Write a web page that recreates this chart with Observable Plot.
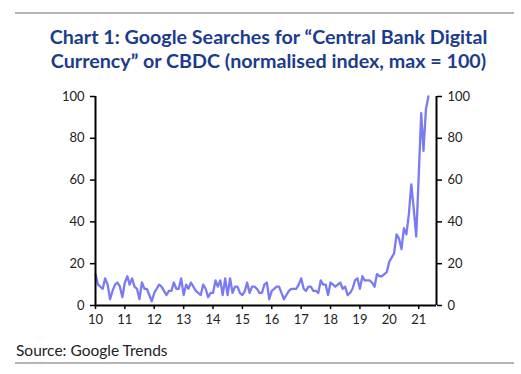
<!DOCTYPE html>
<html>
<head>
<meta charset="utf-8">
<script src="https://cdn.jsdelivr.net/npm/d3@7"></script>
<script src="https://cdn.jsdelivr.net/npm/@observablehq/plot@0.6"></script>
<style>
  html, body { margin: 0; padding: 0; background: #fff; }
  #wrap { position: relative; width: 521px; height: 374px; overflow: hidden; font-family: Lato, "Open Sans", sans-serif; }
  .rule { position: absolute; left: 15px; width: 499px; height: 0; border-top: 2px solid #b4b4b4; }
  #title { position: absolute; left: 8px; width: 521px; top: 25px; text-align: center; color: #1b3c8c; font-weight: 700; font-size: 19.7px; line-height: 24px; }
  #chart { position: absolute; left: 0; top: 80px; }
  #source { position: absolute; left: 16px; top: 341px; font-size: 15.5px; color: #222; }
</style>
</head>
<body>
<div id="wrap">
  <div class="rule" style="top:12px"></div>
  <div id="title">Chart 1: Google Searches for “Central Bank Digital<br>Currency” or CBDC (normalised index, max = 100)</div>
  <div id="chart"></div>
  <div id="source">Source: Google Trends</div>
  <div class="rule" style="top:362px"></div>
</div>
<script>
// Monthly Google Trends index, Jan 2010 – May 2021
const startMonth = "2010-01-01";
const values = [
  15, 10, 9, 8, 13, 10, 3, 7, 10, 11, 9, 4,      // 2010
  11, 14, 10, 13, 9, 8, 3, 11, 8, 8, 5, 2,       // 2011
  6, 8, 10, 9, 7, 5, 7, 7, 11, 8, 8, 13,         // 2012
  5, 10, 8, 11, 9, 7, 6, 5, 10, 8, 4, 6,         // 2013
  6, 12, 9, 12, 5, 13, 5, 13, 6, 9, 9, 6,        // 2014
  5, 7, 11, 6, 9, 9, 8, 6, 6, 10, 11, 3,         // 2015
  7, 8, 9, 9, 6, 3, 5, 7, 8, 8, 8, 10,           // 2016
  13, 8, 7, 9, 9, 7, 7, 6, 12, 10, 10, 5,        // 2017
  11, 10, 9, 10, 11, 8, 9, 5, 6, 8, 12, 13,      // 2018
  8, 14, 12, 12, 12, 11, 9, 15, 14, 14, 15, 16,  // 2019
  21, 23, 25, 34, 32, 27, 37, 34, 44, 58, 46, 33,// 2020
  62, 92, 74, 94, 100                            // 2021
];
const yTicks = [0, 20, 40, 60, 80, 100];
const xTickYears = [2010, 2011, 2012, 2013, 2014, 2015, 2016, 2017, 2018, 2019, 2020, 2021];
const xDomain = ["2010-01-01", "2021-08-10"];

const months = d3.utcMonth.range(new Date(startMonth), d3.utcMonth.offset(new Date(startMonth), values.length));
const data = values.map((v, i) => ({date: months[i], value: v}));
const xTicks = xTickYears.map(y => new Date(Date.UTC(y, 0, 1)));
const dom = xDomain.map(d => new Date(d));

const chart = Plot.plot({
  width: 521,
  height: 255,
  marginLeft: 95,
  marginRight: 85,
  marginTop: 16,
  marginBottom: 30,
  style: {fontFamily: "Lato, 'Open Sans', sans-serif", fontSize: "13px", color: "#222", background: "transparent"},
  x: {type: "utc", domain: dom},
  y: {domain: [0, 100]},
  marks: [
    Plot.line(data, {x: "date", y: "value", stroke: "#7a7af2", strokeWidth: 2.3, curve: "linear"}),
    Plot.ruleX([dom[0]], {stroke: "#000", strokeWidth: 2}),
    Plot.ruleX([dom[1]], {stroke: "#000", strokeWidth: 2}),
    Plot.ruleY([0], {stroke: "#000", strokeWidth: 2}),
    Plot.axisY({anchor: "left", ticks: yTicks, tickSize: 5, tickPadding: 6, label: null, stroke: "#000", strokeWidth: 1.5, fill: "#222"}),
    Plot.axisY({anchor: "right", ticks: yTicks, tickSize: 5, tickPadding: 6, label: null, stroke: "#000", strokeWidth: 1.5, fill: "#222"}),
    Plot.axisX({anchor: "bottom", ticks: xTicks, tickFormat: d3.utcFormat("%y"), tickSize: 4, tickPadding: 5, label: null, stroke: "#000", strokeWidth: 1.5, fill: "#222"})
  ]
});
document.getElementById("chart").appendChild(chart);
</script>
</body>
</html>
